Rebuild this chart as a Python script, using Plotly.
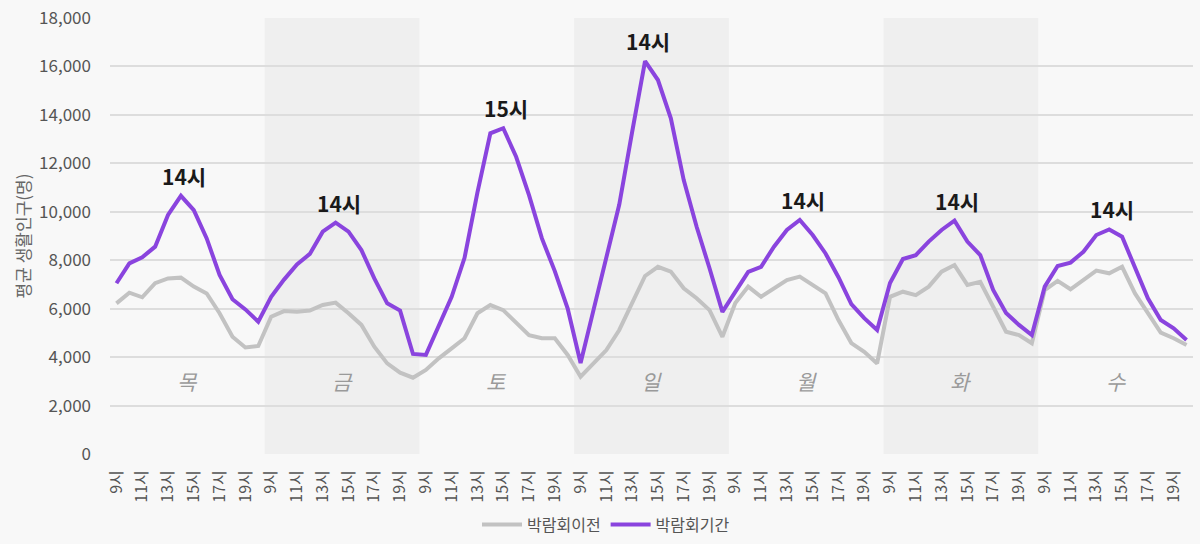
import plotly.graph_objects as go

days = ["목", "금", "토", "일", "월", "화", "수"]
hours = ["9시", "10시", "11시", "12시", "13시", "14시", "15시", "16시", "17시", "18시", "19시", "20시"]

before_expo = [
    6220, 6660, 6470, 7050, 7250, 7280, 6910, 6630, 5810, 4840, 4400, 4460,   # 목
    5670, 5900, 5870, 5920, 6150, 6250, 5810, 5330, 4430, 3740, 3360, 3150,   # 금
    3470, 3950, 4360, 4780, 5810, 6150, 5940, 5400, 4910, 4780, 4780, 4090,   # 토
    3190, 3740, 4290, 5120, 6200, 7350, 7730, 7530, 6840, 6430, 5940, 4840,   # 일
    6230, 6910, 6490, 6850, 7180, 7320, 6980, 6630, 5530, 4580, 4220, 3740,   # 월
    6490, 6700, 6560, 6910, 7530, 7800, 6980, 7110, 6080, 5050, 4910, 4570,   # 화
    6770, 7150, 6800, 7180, 7570, 7460, 7730, 6630, 5810, 5010, 4780, 4500,   # 수
]
during_expo = [
    7050, 7870, 8120, 8560, 9870, 10660, 10070, 8900, 7390, 6390, 5970, 5460,   # 목
    6490, 7200, 7830, 8260, 9180, 9550, 9180, 8420, 7250, 6220, 5920, 4130,     # 금
    4090, 5260, 6490, 8100, 10800, 13240, 13450, 12270, 10690, 8900, 7550, 6000,  # 토
    3760, 5940, 8090, 10300, 13300, 16220, 15440, 13860, 11310, 9380, 7670, 5870,  # 일
    6690, 7520, 7730, 8560, 9250, 9660, 9040, 8280, 7300, 6190, 5610, 5120,     # 월
    7060, 8050, 8210, 8770, 9250, 9630, 8770, 8210, 6770, 5820, 5330, 4910,     # 화
    6910, 7760, 7900, 8350, 9040, 9270, 8970, 7660, 6430, 5530, 5190, 4710,     # 수
]
series_names = ["박람회이전", "박람회기간"]
y_title = "평균 생활인구(명)"
y_ticks = [0, 2000, 4000, 6000, 8000, 10000, 12000, 14000, 16000, 18000]

n_h = len(hours)
x_idx = list(range(len(days) * n_h))
tickvals = [d * n_h + h for d in range(len(days)) for h in range(0, n_h, 2)]
ticktext = [hours[h] for d in range(len(days)) for h in range(0, n_h, 2)]

FONT = "Noto Sans CJK KR, Noto Sans, sans-serif"

fig = go.Figure()
fig.add_trace(go.Scatter(x=x_idx, y=before_expo, mode="lines", name=series_names[0],
                         line=dict(color="#c2c2c2", width=4)))
fig.add_trace(go.Scatter(x=x_idx, y=during_expo, mode="lines", name=series_names[1],
                         line=dict(color="#8a44de", width=4)))

shapes = []
annotations = []
for d, day in enumerate(days):
    if d % 2 == 1:
        shapes.append(dict(type="rect", xref="x", yref="paper",
                           x0=d * n_h - 0.5, x1=d * n_h + n_h - 0.5, y0=0, y1=1,
                           fillcolor="#efefef", line=dict(width=0), layer="below"))
    annotations.append(dict(x=d * n_h + (n_h - 1) / 2, y=3000, xref="x", yref="y",
                            text=day, showarrow=False,
                            font=dict(family=FONT, size=21, color="#9a9a9a", style="italic")))
    seg = during_expo[d * n_h:(d + 1) * n_h]
    k = seg.index(max(seg))
    annotations.append(dict(x=d * n_h + k, y=seg[k], xref="x", yref="y",
                            text="<b>" + hours[k] + "</b>", showarrow=False,
                            yanchor="bottom", yshift=3, xshift=3,
                            font=dict(family=FONT, size=21, color="#1a1a1a")))

fig.update_layout(
    width=1200, height=544,
    margin=dict(l=110, r=7, t=18, b=90, autoexpand=False),
    paper_bgcolor="#f8f8f8", plot_bgcolor="#f8f8f8",
    font=dict(family=FONT, color="#555555"),
    shapes=shapes, annotations=annotations,
    showlegend=True,
    legend=dict(orientation="h", x=0.458, xanchor="center", y=-0.162, yanchor="middle",
                font=dict(family=FONT, size=16, color="#555555"), bgcolor="rgba(0,0,0,0)",
                itemwidth=40),
)
fig.update_xaxes(range=[-0.5, len(x_idx) - 0.5], tickmode="array", tickvals=tickvals,
                 ticktext=ticktext, tickangle=-90, showgrid=False, zeroline=False,
                 tickfont=dict(family=FONT, size=16, color="#555555"), ticks="",
                 ticklabelstandoff=12, automargin=False, fixedrange=True)
fig.update_yaxes(range=[0, 18000], tickmode="array", tickvals=y_ticks,
                 tickformat=",d", showgrid=True, gridcolor="#dddddd", gridwidth=1.5,
                 zeroline=False, tickfont=dict(family=FONT, size=17, color="#555555"),
                 ticks="", ticklabelstandoff=18, automargin=False,
                 title=dict(text=y_title, font=dict(family=FONT, size=17, color="#666666"),
                            standoff=4))

fig.write_html("out.html")
